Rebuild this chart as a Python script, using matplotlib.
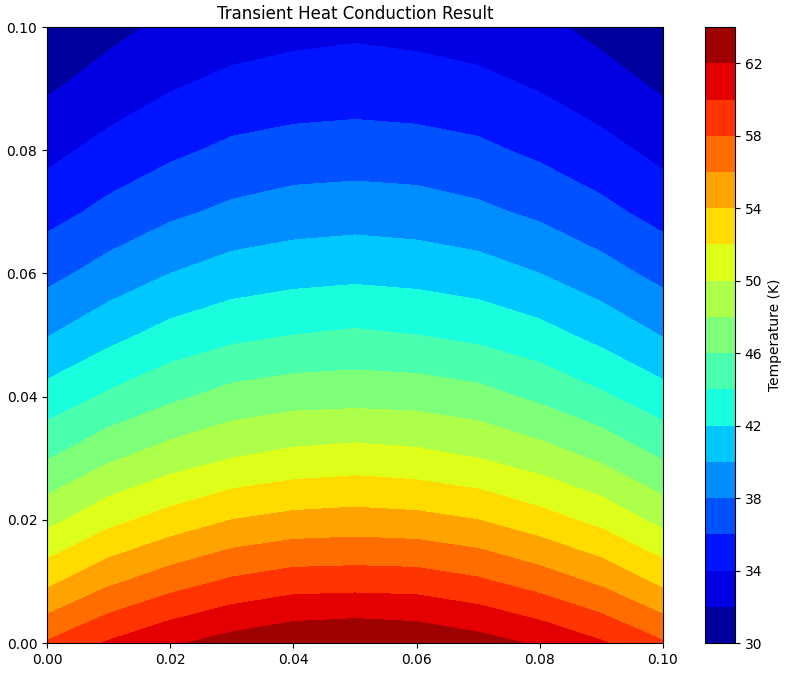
import numpy as np
import matplotlib
matplotlib.use("Agg")
import matplotlib.pyplot as plt

# grid node positions (m)
x = [0.0, 0.01, 0.02, 0.03, 0.04, 0.05, 0.06, 0.07, 0.08, 0.09, 0.10]
y = [0.0, 0.01, 0.02, 0.03, 0.04, 0.05, 0.06, 0.07, 0.08, 0.09, 0.10]

# temperature at the nodes (K), one row per y value
T = [
    [58.2, 60.2, 61.7, 62.8, 63.6, 63.9, 63.6, 62.8, 61.7, 60.2, 58.2],
    [53.5, 55.6, 57.1, 58.3, 59.0, 59.1, 59.0, 58.3, 57.1, 55.6, 53.5],
    [49.4, 51.4, 52.8, 54.0, 54.6, 54.8, 54.6, 54.0, 52.8, 51.4, 49.4],
    [45.9, 47.7, 49.0, 50.0, 50.6, 50.9, 50.6, 50.0, 49.0, 47.7, 45.9],
    [42.8, 44.3, 45.6, 46.7, 47.2, 47.3, 47.2, 46.7, 45.6, 44.3, 42.8],
    [39.9, 41.4, 42.7, 43.5, 44.0, 44.3, 44.0, 43.5, 42.7, 41.4, 39.9],
    [37.4, 38.8, 40.0, 40.9, 41.3, 41.5, 41.3, 40.9, 40.0, 38.8, 37.4],
    [35.3, 36.5, 37.6, 38.4, 38.9, 39.1, 38.9, 38.4, 37.6, 36.5, 35.3],
    [33.4, 34.7, 35.6, 36.4, 36.8, 36.9, 36.8, 36.4, 35.6, 34.7, 33.4],
    [31.8, 32.8, 33.9, 34.6, 34.9, 35.1, 34.9, 34.6, 33.9, 32.8, 31.8],
    [30.5, 31.5, 32.4, 33.0, 33.4, 33.6, 33.4, 33.0, 32.4, 31.5, 30.5],
]

levels = np.arange(30, 66, 2)
cbar_ticks = np.arange(30, 64, 4)

fig = plt.figure(figsize=(7.86, 6.76), dpi=100)
ax = fig.add_axes([0.0598, 0.0488, 0.7837, 0.9112])
cax = fig.add_axes([0.897, 0.0488, 0.0382, 0.9112])

X, Y = np.meshgrid(x, y)
cs = ax.contourf(X, Y, np.array(T), levels=levels, cmap="jet")
ax.set_title("Transient Heat Conduction Result")
ax.set_xticks([0.0, 0.02, 0.04, 0.06, 0.08, 0.10])
ax.set_yticks([0.0, 0.02, 0.04, 0.06, 0.08, 0.10])

cbar = fig.colorbar(cs, cax=cax, ticks=cbar_ticks)
cbar.set_label("Temperature (K)")

fig.savefig("out.png", dpi=100)
